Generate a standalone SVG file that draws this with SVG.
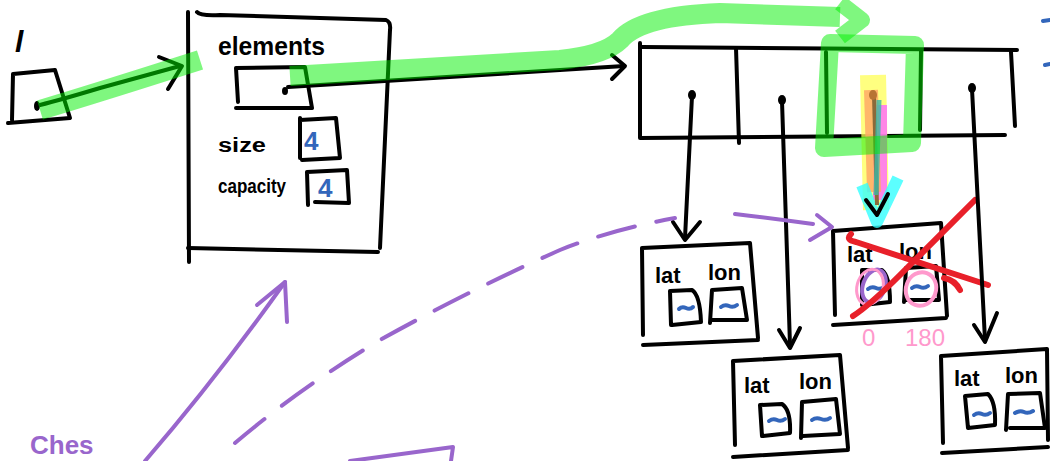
<svg xmlns="http://www.w3.org/2000/svg" width="1050" height="461" viewBox="0 0 1050 461">
<style>
.ink{fill:none;stroke:#000;stroke-width:4;stroke-linecap:round;stroke-linejoin:round}
.dot{fill:#000}
.hl{fill:none;stroke:#00f000;stroke-opacity:.5;stroke-linecap:butt;stroke-linejoin:round}
.pur{fill:none;stroke:#9966cc;stroke-width:4;stroke-linecap:round;stroke-linejoin:round}
.red{fill:none;stroke:#e8202a;stroke-width:6;stroke-linecap:round;stroke-linejoin:round}
.blue{fill:none;stroke:#3366bb;stroke-width:4;stroke-linecap:round}
.t{font-family:"Liberation Sans",Arial,sans-serif;font-weight:bold;fill:#000}
.tb{font-family:"Liberation Sans",Arial,sans-serif;font-weight:bold;fill:#3366bb}
.tp{font-family:"Liberation Sans",Arial,sans-serif;fill:#ff99cc}
</style>
<rect width="1050" height="461" fill="#fff"/>

<g id="var-l">
  <text class="t" x="15" y="52" font-size="30" font-family="Liberation Serif" font-style="italic">l</text>
  <path class="ink" d="M12,120 L13,74 L55,70 L70,118 L8,123"/>
  <ellipse class="dot" cx="37" cy="106" rx="3" ry="5"/>
</g>

<g id="struct">
  <path class="ink" d="M188,12 L189,262"/>
  <path class="ink" d="M197,12 Q200,16 220,15 L386,20 Q391,22 390,30 L380,248"/>
  <path class="ink" d="M188,248 L378,252"/>
  <text class="t" x="218" y="55" font-size="25" textLength="107" lengthAdjust="spacingAndGlyphs">elements</text>
  <path class="ink" d="M238,102 L236,68 L305,67 L312,108 L236,108"/>
  <ellipse class="dot" cx="285" cy="91" rx="3" ry="4"/>
  <text class="t" x="218" y="152" font-size="20" textLength="48" lengthAdjust="spacingAndGlyphs">size</text>
  <path class="ink" d="M300,118 L300,158 M300,120 L336,118 L340,158 L302,160"/>
  <text class="tb" x="304" y="150" font-size="26">4</text>
  <text class="t" x="218" y="193" font-size="20" textLength="68" lengthAdjust="spacingAndGlyphs">capacity</text>
  <path class="ink" d="M308,205 L307,172 L347,170 L349,203 L315,202"/>
  <text class="tb" x="318" y="197" font-size="26">4</text>
</g>

<g id="array">
  <path class="ink" d="M640,43 L640,138 L1005,135"/>
  <path class="ink" d="M642,47 L1017,50"/>
  <path class="ink" d="M736,48 L739,143"/>
  <path class="ink" d="M826,52 L827,133"/>
  <path class="ink" d="M921,51 L920,130"/>
  <path class="ink" d="M1011,52 L1015,126"/>
  <ellipse class="dot" cx="692" cy="95" rx="4" ry="5"/>
  <ellipse class="dot" cx="782" cy="100" rx="4" ry="5"/>
  <ellipse class="dot" cx="972" cy="88" rx="4" ry="5"/>
</g>

<g id="point-a">
  <path class="ink" d="M643,335 L642,248 L750,243 L758,338 M643,345 L758,340"/>
  <text class="t" x="655" y="283" font-size="22">lat</text>
  <text class="t" x="708" y="280" font-size="22">lon</text>
  <path class="ink" d="M671,325 L670,291 L692,290 Q700,295 701,322 L672,325"/>
  <path class="ink" d="M710,323 L712,290 L742,288 L747,320 L712,320"/>
  <path class="blue" d="M679,309 q3,-3 7,-1 t7,-1"/>
  <path class="blue" d="M721,307 q4,-3 8,-1 t8,-1"/>
</g>

<g id="point-b">
  <path class="ink" d="M735,445 L733,361 L840,355 L848,448 M733,457 L848,450"/>
  <text class="t" x="744" y="393" font-size="22">lat</text>
  <text class="t" x="799" y="389" font-size="22">lon</text>
  <path class="ink" d="M762,436 L760,405 L782,404 Q791,410 790,433 L763,436"/>
  <path class="ink" d="M801,438 L802,402 L836,399 L840,434 L803,436"/>
  <path class="blue" d="M769,421 q4,-3 8,-1 t8,-1"/>
  <path class="blue" d="M812,420 q4,-3 9,-1 t9,-1"/>
</g>

<g id="point-c">
  <path class="ink" d="M835,315 L833,231 L941,223 L947,316 M833,325 L946,318"/>
  <text class="t" x="847" y="262" font-size="22">lat</text>
  <text class="t" x="899" y="259" font-size="22">lon</text>
  <path class="ink" d="M862,305 L862,270 L882,270 Q890,276 890,302 L863,305"/>
  <path class="ink" d="M904,302 L906,268 L936,266 L939,300 L906,300"/>
  <path class="blue" d="M868,289 q4,-3 8,-1 t8,-1"/>
  <path class="blue" d="M912,288 q4,-3 8,-1 t8,-1"/>
  <ellipse cx="874" cy="286" rx="11" ry="17" fill="none" stroke="#9966cc" stroke-width="4" transform="rotate(20 874 286)"/>
  <ellipse cx="870" cy="287" rx="13" ry="18" fill="none" stroke="#ff99cc" stroke-width="3" transform="rotate(15 870 287)"/>
  <ellipse cx="921" cy="289" rx="15" ry="17" fill="none" stroke="#ff99cc" stroke-width="4" transform="rotate(20 921 289)"/>
  <path class="red" d="M851,234 Q845,240 856,242 L988,285"/>
  <path class="red" d="M853,316 Q870,305 900,275 L975,200"/>
  <path class="red" d="M944,278 Q955,280 960,290"/>
  <text class="tp" x="862" y="346" font-size="24">0</text>
  <text class="tp" x="905" y="346" font-size="24">180</text>
</g>

<g id="point-d">
  <path class="ink" d="M943,443 L941,356 L1047,349 L1048,440 M942,453 L1048,447"/>
  <text class="t" x="954" y="386" font-size="22">lat</text>
  <text class="t" x="1005" y="383" font-size="22">lon</text>
  <path class="ink" d="M968,428 L965,396 L988,394 Q996,402 995,425 L968,428"/>
  <path class="ink" d="M1006,430 L1008,394 L1040,393 L1045,428 L1010,428"/>
  <path class="blue" d="M974,415 q4,-3 8,-1 t8,-1"/>
  <path class="blue" d="M1015,413 q5,-3 9,-1 t9,-1"/>
</g>

<g id="note-stack">
  <text x="30" y="454" font-size="26" font-weight="bold" font-family="Liberation Sans,Arial,sans-serif" fill="#9966cc">Ches</text>
</g>

<g id="connectors">
  <path class="ink" d="M40,105 Q60,100 100,88 L180,66"/>
  <path class="ink" d="M159,57 L182,66 L168,89"/>
  <path class="ink" d="M288,87 L624,66"/>
  <path class="ink" d="M612,55 L625,66 L612,79"/>
  <path class="ink" d="M692,96 L685,238"/>
  <path class="ink" d="M673,222 L685,240 L700,222"/>
  <path class="ink" d="M782,101 L790,345"/>
  <path class="ink" d="M779,330 L790,348 L800,328"/>
  <path class="ink" d="M972,89 L985,340"/>
  <path class="ink" d="M974,325 L985,342 L997,313"/>
  <path d="M873,75 L876,210" stroke="#ffff55" stroke-opacity=".75" stroke-width="26" fill="none"/>
  <path d="M880,105 L880,200" stroke="#ff66ff" stroke-opacity=".8" stroke-width="14" fill="none"/>
  <path d="M871,90 L874,192" stroke="#ffaa66" stroke-opacity=".85" stroke-width="14" fill="none"/>
  <path d="M862,185 L877,222 L898,178" stroke="#33ffff" stroke-opacity=".8" stroke-width="12" fill="none" stroke-linejoin="round"/>
  <path d="M874,96 L877,205" stroke="#8b6a3a" stroke-width="4" fill="none"/>
  <path d="M879,100 L876,195" stroke="#3ab8a8" stroke-opacity=".8" stroke-width="5" fill="none"/>
  <ellipse cx="873" cy="95" rx="4" ry="5" fill="#b87333"/>
  <path class="ink" d="M866,200 L877,215 L888,194"/>
  <path class="hl" stroke-width="20" d="M40,110 Q100,92 200,60"/>
  <path class="hl" stroke-width="20" d="M290,76 L560,60 Q605,55 620,40 Q640,16 720,13 L840,17"/>
  <path class="hl" stroke-width="16" d="M840,3 L862,20 L840,37"/>
  <path class="hl" stroke-width="18" d="M830,43 L915,45 L912,143 L824,148 Z"/>
  <path class="pur" d="M145,461 Q215,380 285,282"/>
  <path class="pur" d="M257,305 L285,282 L287,322"/>
  <path class="pur" stroke-dasharray="38,22" d="M235,443 Q300,388 380,340 Q470,290 560,250 Q610,230 675,218"/>
  <path class="pur" d="M735,214 Q770,218 813,224"/>
  <path class="pur" d="M817,215 L832,227 L810,240"/>
  <path class="pur" d="M350,461 L453,447 L451,461"/>
  <path class="blue" d="M1043,21 L1050,20 M1045,65 L1050,64"/>
</g>
</svg>
